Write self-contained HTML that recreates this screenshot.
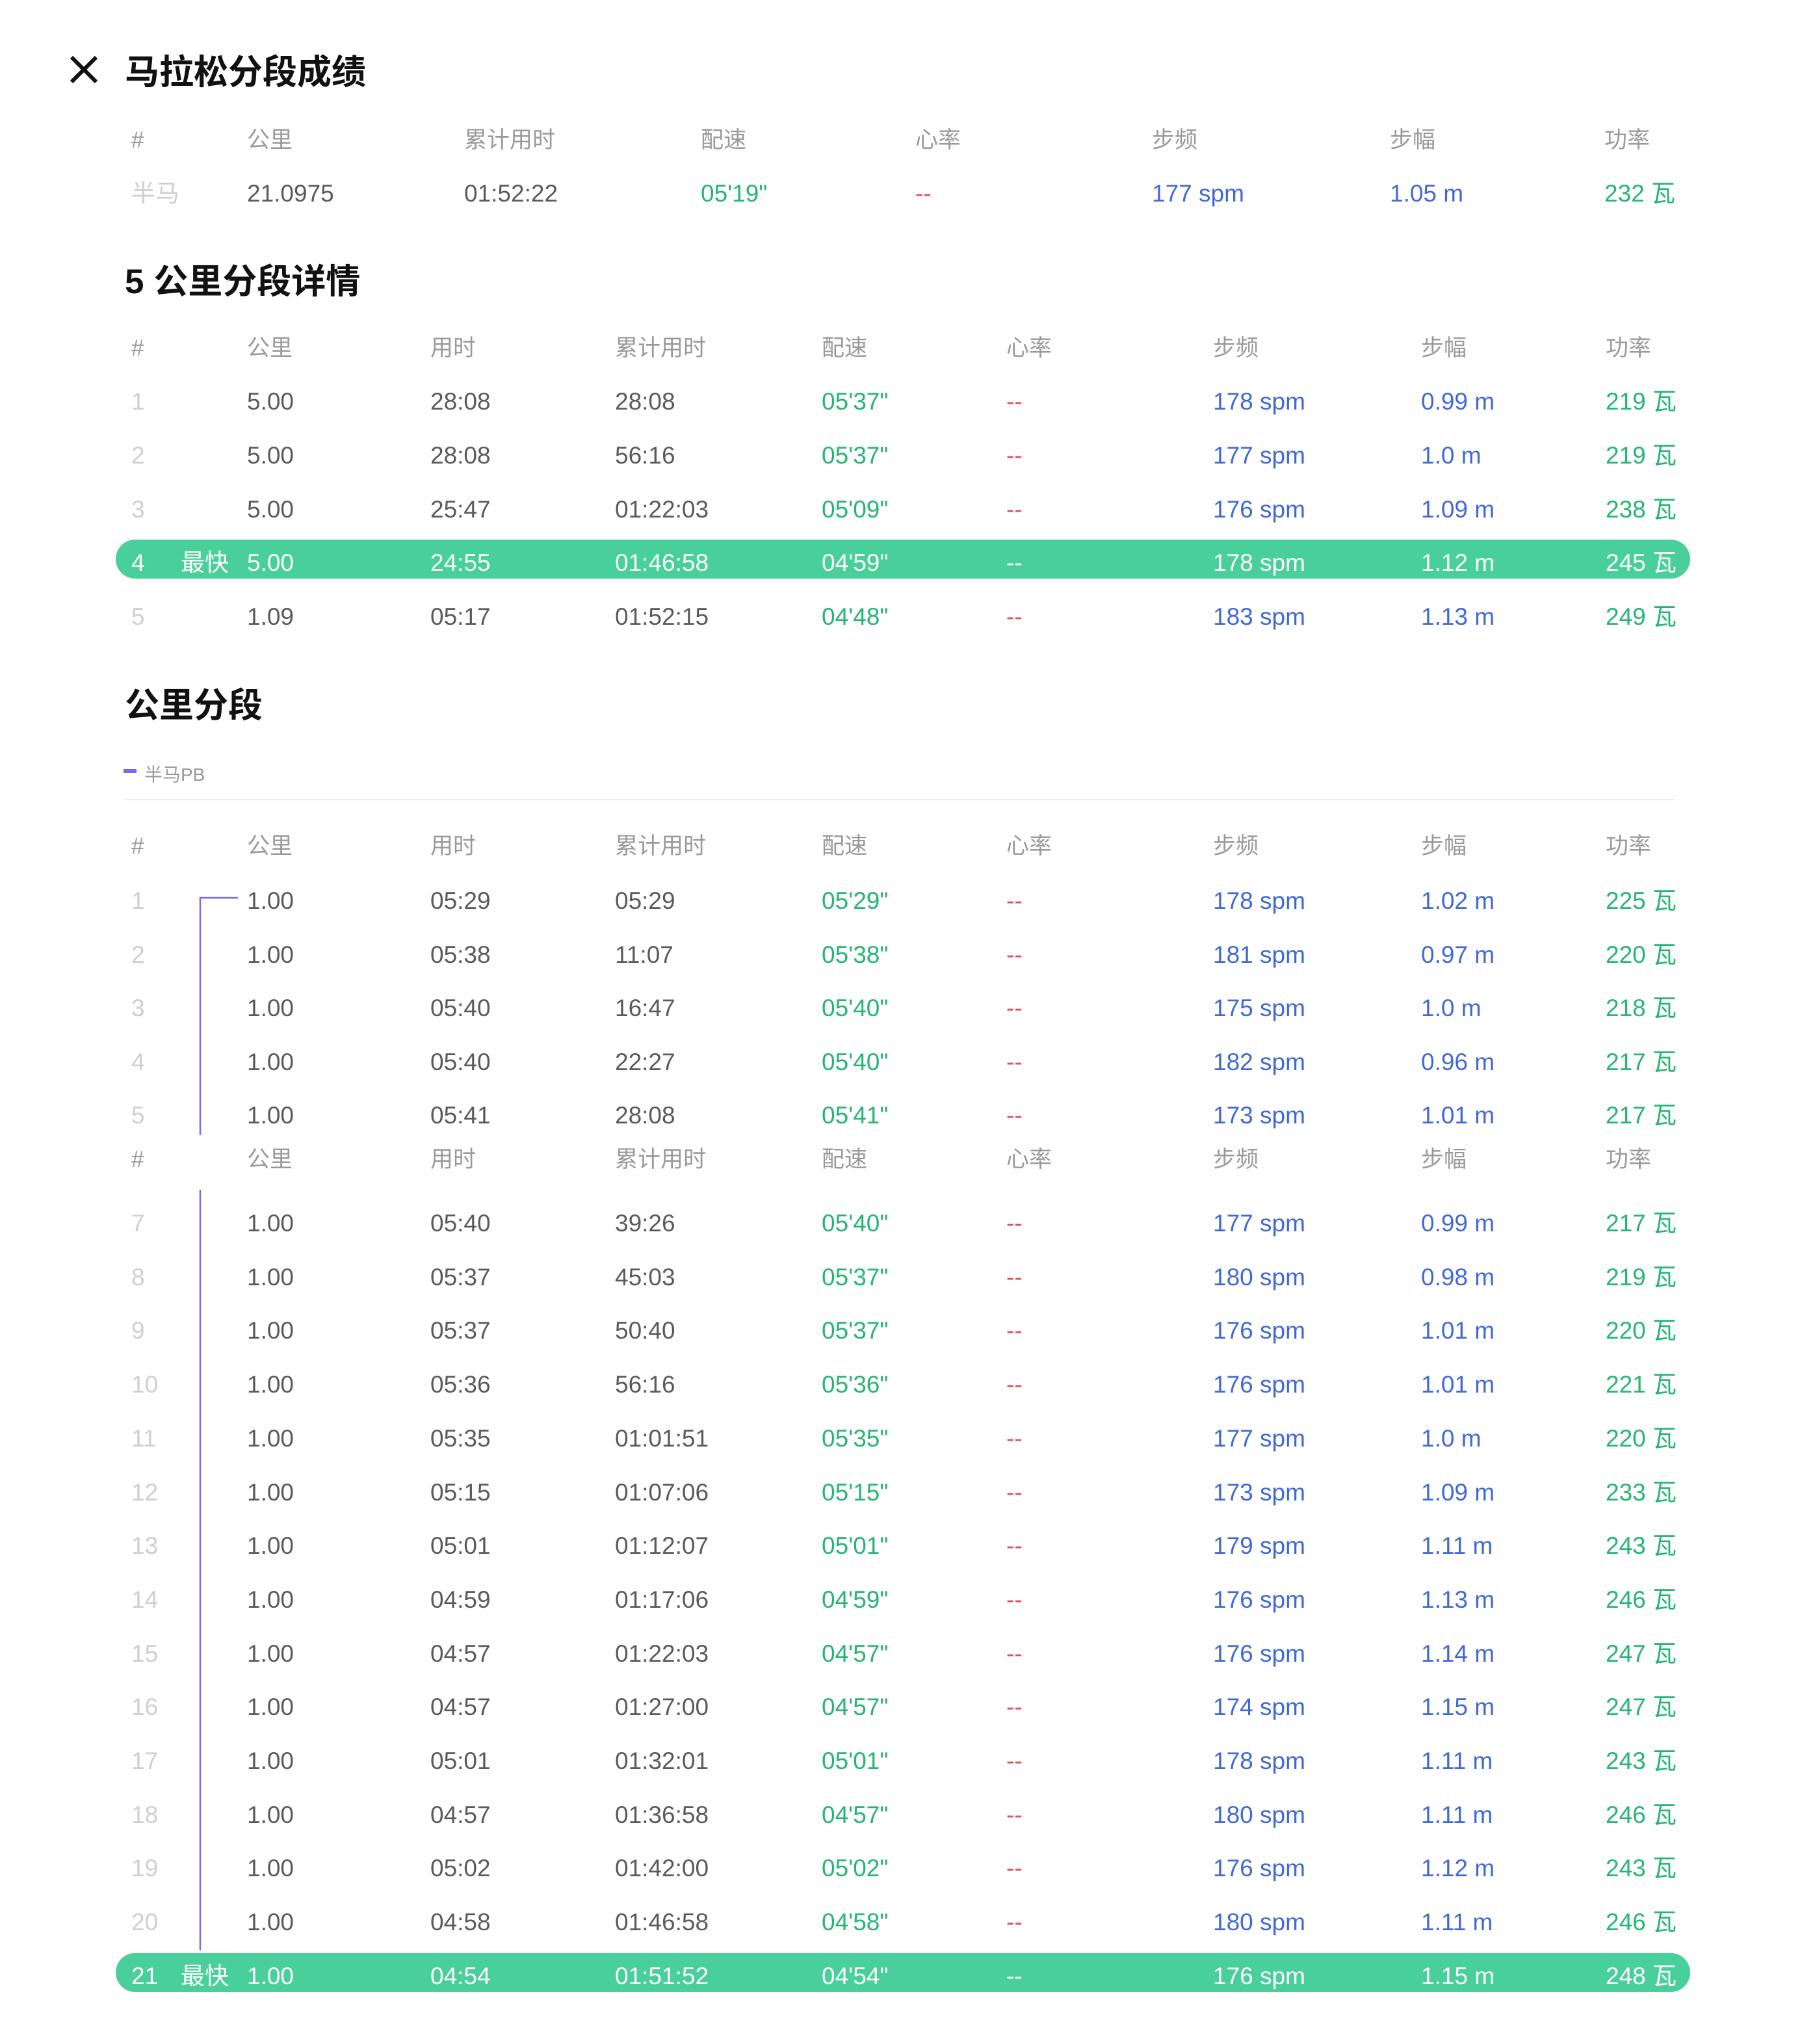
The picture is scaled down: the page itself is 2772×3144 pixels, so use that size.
<!DOCTYPE html>
<html><head><meta charset="utf-8">
<style>
body{margin:0;width:2772px;height:3144px;background:#fff;position:relative;overflow:hidden;font-family:"Liberation Sans","Noto Sans CJK SC",sans-serif;}
.t{position:absolute;white-space:nowrap;line-height:60px;height:60px;font-size:37px;transform:translateY(-24px);}
.h{color:#9a9a9a;font-size:35px;}
.n{color:#cfcfcf;}
.v{color:#5a5a5a;}
.g{color:#26b574;}
.b{color:#4169d6;}
.r{color:#e2505c;}
.w{color:#fff !important;}
.title{position:absolute;font-weight:bold;font-size:53px;color:#111;line-height:60px;transform:translateY(-26px);}
.hl{position:absolute;background:#48cf9a;border-radius:30px;height:60px;}
</style></head><body>
<svg style="position:absolute;left:106px;top:84px" width="46" height="46"><path d="M4 4L42 42M42 4L4 42" stroke="#111" stroke-width="6"/></svg>
<div class="title" style="left:192px;top:108px">马拉松分段成绩</div>
<div class="title" style="left:192px;top:430px">5 公里分段详情</div>
<div class="title" style="left:192px;top:1082px">公里分段</div>
<div style="position:absolute;left:190px;top:1183px;width:20px;height:6px;background:#7b68ee"></div>
<div class="t h" style="left:222px;top:1186px;font-size:28px">半马PB</div>
<div style="position:absolute;left:190px;top:1229px;width:2386px;height:2px;background:#eee"></div>
<svg style="position:absolute;left:0;top:0" width="2772" height="3144"><path d="M366 1381H308V1746M308 1830V3000" fill="none" stroke="#7b68ee" stroke-width="2.5"/></svg>
<div id="root"></div>
<script>
const headTop=["#","公里","累计用时","配速","心率","步频","步幅","功率"];
const headFull=["#","公里","用时","累计用时","配速","心率","步频","步幅","功率"];
const colsTop=[202,380,714,1078,1408,1772,2138,2468];
const colsFull=[202,380,662,946,1264,1548,1866,2186,2470];
const halfRow=["半马","21.0975","01:52:22","05'19\"","--","177 spm","1.05 m","232 瓦"];
const fiveIdx=["1","2","3","4","5"];
const fiveKm=["5.00","5.00","5.00","5.00","1.09"];
const fiveTime=["28:08","28:08","25:47","24:55","05:17"];
const fiveCum=["28:08","56:16","01:22:03","01:46:58","01:52:15"];
const fivePace=["05'37\"","05'37\"","05'09\"","04'59\"","04'48\""];
const fiveCad=[178,177,176,178,183];
const fiveStride=["0.99","1.0","1.09","1.12","1.13"];
const fivePow=[219,219,238,245,249];
const fiveFast=3;
const kmIdx=["1","2","3","4","5","7","8","9","10","11","12","13","14","15","16","17","18","19","20","21"];
const kmTime=["05:29","05:38","05:40","05:40","05:41","05:40","05:37","05:37","05:36","05:35","05:15","05:01","04:59","04:57","04:57","05:01","04:57","05:02","04:58","04:54"];
const kmCum=["05:29","11:07","16:47","22:27","28:08","39:26","45:03","50:40","56:16","01:01:51","01:07:06","01:12:07","01:17:06","01:22:03","01:27:00","01:32:01","01:36:58","01:42:00","01:46:58","01:51:52"];
const kmPace=["05'29\"","05'38\"","05'40\"","05'40\"","05'41\"","05'40\"","05'37\"","05'37\"","05'36\"","05'35\"","05'15\"","05'01\"","04'59\"","04'57\"","04'57\"","05'01\"","04'57\"","05'02\"","04'58\"","04'54\""];
const kmCad=[178,181,175,182,173,177,180,176,176,177,173,179,176,176,174,178,180,176,180,176];
const kmStride=["1.02","0.97","1.0","0.96","1.01","0.99","0.98","1.01","1.01","1.0","1.09","1.11","1.13","1.14","1.15","1.11","1.11","1.12","1.11","1.15"];
const kmPow=[225,220,218,217,217,217,219,220,221,220,233,243,246,247,247,243,246,243,246,248];
const kmFast=19;
const root=document.getElementById('root');
function txt(s,x,y,cls,name){const d=document.createElement('div');d.className='t '+cls;d.textContent=s;d.style.left=x+'px';d.style.top=y+'px';


root.appendChild(d);return d;}
function header(arr,cols,y){arr.forEach((s,i)=>txt(s,cols[i],y,'h','column-header'));}
function hl(y){const d=document.createElement('div');d.className='hl';d.style.left='178px';d.style.width='2422px';d.style.top=(y-30)+'px';


root.appendChild(d);}
const cls=['n','v','v','v','g','r','b','b','g'];
function row(vals,cols,y,fast){if(fast)hl(y);vals.forEach((s,i)=>txt(s,cols[i],y,cls[i]+(fast?' w':''),'cell'));
if(fast){txt('最快',278,y,'w','fastest-tag');}}
header(headTop,colsTop,210);
txt(halfRow[0],colsTop[0],292,'n','half-label');
['v','v','g','r','b','b','g'].forEach((c,i)=>txt(halfRow[i+1],colsTop[i+1],292,c,'half-cell'));
header(headFull,colsFull,530);
fiveIdx.forEach((k,i)=>row([k,fiveKm[i],fiveTime[i],fiveCum[i],fivePace[i],'--',fiveCad[i]+' spm',fiveStride[i]+' m',fivePow[i]+' 瓦'],colsFull,612+i*82.8,i===fiveFast));
header(headFull,colsFull,1296);
header(headFull,colsFull,1778);
kmIdx.forEach((k,i)=>{const y=i<5?1380+i*82.6:1876+(i-5)*82.7;
row([k,'1.00',kmTime[i],kmCum[i],kmPace[i],'--',kmCad[i]+' spm',kmStride[i]+' m',kmPow[i]+' 瓦'],colsFull,y,i===kmFast);});
</script>
</body></html>
